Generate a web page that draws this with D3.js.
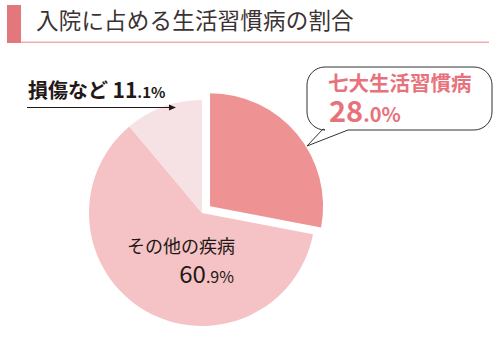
<!DOCTYPE html>
<html><head><meta charset="utf-8">
<script src="https://cdn.jsdelivr.net/npm/d3@7"></script>
<style>
html,body{margin:0;padding:0;background:#fff;}
text{font-family:"Noto Sans CJK JP","Noto Sans",sans-serif;}
</style></head>
<body>
<svg id="chart" width="501" height="341"></svg>
<script>
const title = "入院に占める生活習慣病の割合";
const categories = ["七大生活習慣病", "その他の疾病", "損傷など"];
const values = [28.0, 60.9, 11.1];
const colors = ["#ee9294", "#f5c3c5", "#f6e2e4"];

const svg = d3.select("#chart");

// Title
svg.append("rect").attr("x", 7).attr("y", 5).attr("width", 14).attr("height", 38).attr("fill", "#e2777c");
svg.append("rect").attr("x", 21).attr("y", 41.5).attr("width", 468).attr("height", 1.5).attr("fill", "#f2abae");
svg.append("text").attr("x", 36).attr("y", 29).attr("font-size", 22.5).attr("letter-spacing", 0.2)
  .attr("fill", "#3b3233").text(title);

// Pie
const cx = 202, cy = 213, R = 113;
const pie = d3.pie().sort(null).startAngle(0).endAngle(2 * Math.PI).value(d => d);
const arcs = pie(values);
const arc = d3.arc().innerRadius(0).outerRadius(R);
const g = svg.append("g").attr("transform", `translate(${cx},${cy})`);
const explode = [10.5, 0, 0];
g.selectAll("path").data(arcs).join("path")
  .attr("d", arc)
  .attr("fill", (d, i) => colors[i])
  .attr("transform", (d, i) => {
    const a = (d.startAngle + d.endAngle) / 2;
    return `translate(${explode[i] * Math.sin(a)},${-explode[i] * Math.cos(a)})`;
  });

const fmtInt = v => String(Math.floor(v));
const fmtDec = v => "." + d3.format(".1f")(v).split(".")[1] + "%";

// Callout bubble for 七大生活習慣病
const bx0 = 307, bx1 = 492, by0 = 67, by1 = 130, br = 18;
const p = d3.path();
p.moveTo(bx0 + br, by0);
p.lineTo(bx1 - br, by0);
p.arcTo(bx1, by0, bx1, by0 + br, br);
p.lineTo(bx1, by1 - br);
p.arcTo(bx1, by1, bx1 - br, by1, br);
p.lineTo(348, by1);
p.lineTo(307, 146);
p.lineTo(323, by1 - 1);
p.lineTo(bx0 + br, by1);
p.arcTo(bx0, by1, bx0, by1 - br, br);
p.lineTo(bx0, by0 + br);
p.arcTo(bx0, by0, bx0 + br, by0, br);
p.closePath();
svg.append("path").attr("d", p.toString()).attr("fill", "#fff").attr("stroke", "#333").attr("stroke-width", 1);

svg.append("text").attr("x", 328).attr("y", 91).attr("font-size", 20.5).attr("font-weight", "bold")
  .attr("fill", "#e8727c").text(categories[0]);
const t1 = svg.append("text").attr("x", 329).attr("y", 122).attr("fill", "#e8727c").attr("font-weight", "bold");
t1.append("tspan").attr("font-size", 29).text(fmtInt(values[0]));
t1.append("tspan").attr("font-size", 20).text(fmtDec(values[0]));

// その他の疾病
svg.append("text").attr("x", 127).attr("y", 253).attr("font-size", 18).attr("fill", "#231815").text(categories[1]);
const t2 = svg.append("text").attr("x", 234).attr("y", 283).attr("text-anchor", "end").attr("fill", "#231815");
t2.append("tspan").attr("font-size", 24).text(fmtInt(values[1]));
t2.append("tspan").attr("font-size", 16).text(fmtDec(values[1]));

// 損傷など with arrow
const t3 = svg.append("text").attr("x", 28).attr("y", 98).attr("fill", "#231815").attr("font-weight", "bold");
t3.append("tspan").attr("font-size", 20).text(categories[2] + " ");
t3.append("tspan").attr("font-size", 21).text(fmtInt(values[2]));
t3.append("tspan").attr("font-size", 15).text(fmtDec(values[2]));
svg.append("line").attr("x1", 27).attr("x2", 170).attr("y1", 107.5).attr("y2", 107.5).attr("stroke", "#231815").attr("stroke-width", 1);
svg.append("path").attr("d", "M176,107.5 L169,104.5 L169,110.5 Z").attr("fill", "#231815");
</script>
</body></html>
